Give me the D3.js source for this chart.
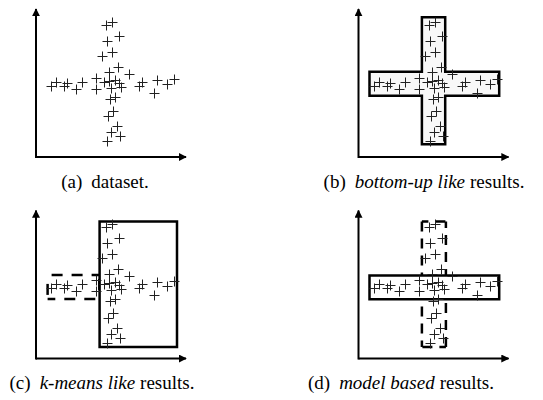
<!DOCTYPE html>
<html>
<head>
<meta charset="utf-8">
<script src="https://cdn.jsdelivr.net/npm/d3@7"></script>
<style>
  html, body { margin: 0; padding: 0; background: #fff; }
  svg { display: block; }
</style>
</head>
<body>
<svg id="chart" width="543" height="400"></svg>
<script>
// ---- data (in data units, origin = axes corner) ----
const pointX = [70, 76, 71, 83, 66, 76, 82, 73, 93,
                15, 20, 28, 31, 40, 46, 60, 60, 68, 73, 79, 75, 85, 83,
                74, 79, 77, 72, 81, 75, 84, 71,
                103, 106, 121, 118, 131, 138];
const pointY = [132, 135, 116, 121, 101, 105, 90, 85, 83,
                71, 75, 71, 74, 68, 75, 68, 79, 75, 76, 77, 69, 70, 74,
                58, 60, 46, 41, 31, 25, 21, 16,
                71, 75, 77, 64, 73, 78];

const panelIds = ["a", "b", "c", "d"];
const captionTag = ["(a)", "(b)", "(c)", "(d)"];
const captionItalic = ["", "bottom-up like", "k-means like", "model based"];
const captionRest = ["dataset.", "results.", "results.", "results."];

// cluster boxes: [x0, x1, y0, y1] in data units
const crossVertical = [63.4, 86.7, 12.7, 139.7];
const crossHorizontal = [11, 140.7, 61.3, 85.3];
const kmeansSolid = [63.6, 141, 11.6, 136.9];
const kmeansDashed = [11.6, 63.3, 59.6, 83.6];
const modelSolid = [11, 140.7, 59.3, 82.9];
const modelDashed = [63.4, 87.4, 11.6, 136.9];

// ---- layout ----
const svg = d3.select("#chart");
const origins = { a: [36, 157], b: [358.5, 157], c: [36, 358.5], d: [358.5, 358.5] };
const captionPos = { a: [105, 188], b: [424, 188], c: [102, 389], d: [401, 389] };
const xLen = 150, yLen = 148;

const defs = svg.append("defs");
defs.append("marker")
  .attr("id", "arrow")
  .attr("viewBox", "0 0 10 10")
  .attr("refX", 9).attr("refY", 5)
  .attr("markerWidth", 4).attr("markerHeight", 4)
  .attr("markerUnits", "strokeWidth")
  .attr("orient", "auto")
  .append("path")
  .attr("d", "M0,0 L10,5 L0,10 z")
  .attr("fill", "#000");

function rectPath(x, y, b) {
  return `M${x(b[0])},${y(b[2])}H${x(b[1])}V${y(b[3])}H${x(b[0])}Z`;
}

// dashed rectangle drawn side by side, each side starting at a corner
function dashedRect(g, x, y, b, dash, offset) {
  const c = [[x(b[0]), y(b[3])], [x(b[1]), y(b[3])], [x(b[1]), y(b[2])], [x(b[0]), y(b[2])]];
  for (let k = 0; k < 4; k++) {
    const p = c[k], q = c[(k + 1) % 4];
    g.append("path").attr("d", `M${p[0]},${p[1]}L${q[0]},${q[1]}`)
      .attr("fill", "none").attr("stroke", "#000").attr("stroke-width", 2.5)
      .attr("stroke-dasharray", dash).attr("stroke-dashoffset", offset);
  }
}

panelIds.forEach((id, i) => {
  const [ox, oy] = origins[id];
  const x = d3.scaleLinear().domain([0, xLen]).range([ox, ox + xLen]);
  const y = d3.scaleLinear().domain([0, yLen]).range([oy, oy - yLen]);
  const g = svg.append("g").attr("class", "panel-" + id);

  // boxes behind points
  if (id === "b") {
    const v = crossVertical, h = crossHorizontal;
    const d = `M${x(v[0])},${y(v[3])}H${x(v[1])}V${y(h[3])}H${x(h[1])}V${y(h[2])}` +
              `H${x(v[1])}V${y(v[2])}H${x(v[0])}V${y(h[2])}H${x(h[0])}V${y(h[3])}H${x(v[0])}Z`;
    g.append("path").attr("d", d)
      .attr("fill", "#f8f8f8").attr("stroke", "#000").attr("stroke-width", 2.5)
      .attr("stroke-linejoin", "miter");
  }
  if (id === "c") {
    dashedRect(g, x, y, kmeansDashed, "11,9", 16);
    g.append("path").attr("d", rectPath(x, y, kmeansSolid))
      .attr("fill", "#fff").attr("stroke", "#000").attr("stroke-width", 2.5);
  }
  if (id === "d") {
    dashedRect(g, x, y, modelDashed, "10,7", 3.5);
    g.append("path").attr("d", rectPath(x, y, modelSolid))
      .attr("fill", "#fff").attr("stroke", "#000").attr("stroke-width", 2.5);
  }

  // axes
  g.append("line")
    .attr("x1", x(0)).attr("y1", y(0)).attr("x2", x(xLen)).attr("y2", y(0))
    .attr("stroke", "#000").attr("stroke-width", 2).attr("marker-end", "url(#arrow)");
  g.append("line")
    .attr("x1", x(0)).attr("y1", y(0) + 1).attr("x2", x(0)).attr("y2", y(yLen))
    .attr("stroke", "#000").attr("stroke-width", 2).attr("marker-end", "url(#arrow)");

  // points as plus marks
  const s = 5;
  const pts = g.append("g").attr("class", "points");
  pointX.forEach((px, k) => {
    const cx = Math.round(x(px)) + 0.5, cy = Math.round(y(pointY[k])) + 0.5;
    pts.append("path")
      .attr("d", `M${cx - s},${cy}H${cx + s}M${cx},${cy - s}V${cy + s}`)
      .attr("stroke", "#222").attr("stroke-width", 1).attr("fill", "none");
  });

  // caption
  const [cx, cy] = captionPos[id];
  const t = svg.append("text")
    .attr("x", cx).attr("y", cy)
    .attr("text-anchor", "middle")
    .attr("font-family", "'Liberation Serif', 'Times New Roman', serif")
    .attr("font-size", 19)
    .attr("fill", "#000");
  t.append("tspan").text(captionTag[i]);
  if (captionItalic[i]) {
    t.append("tspan").attr("dx", 9).attr("font-style", "italic").text(captionItalic[i]);
    t.append("tspan").attr("dx", 5).text(captionRest[i]);
  } else {
    t.append("tspan").attr("dx", 9).text(captionRest[i]);
  }
});
</script>
</body>
</html>
